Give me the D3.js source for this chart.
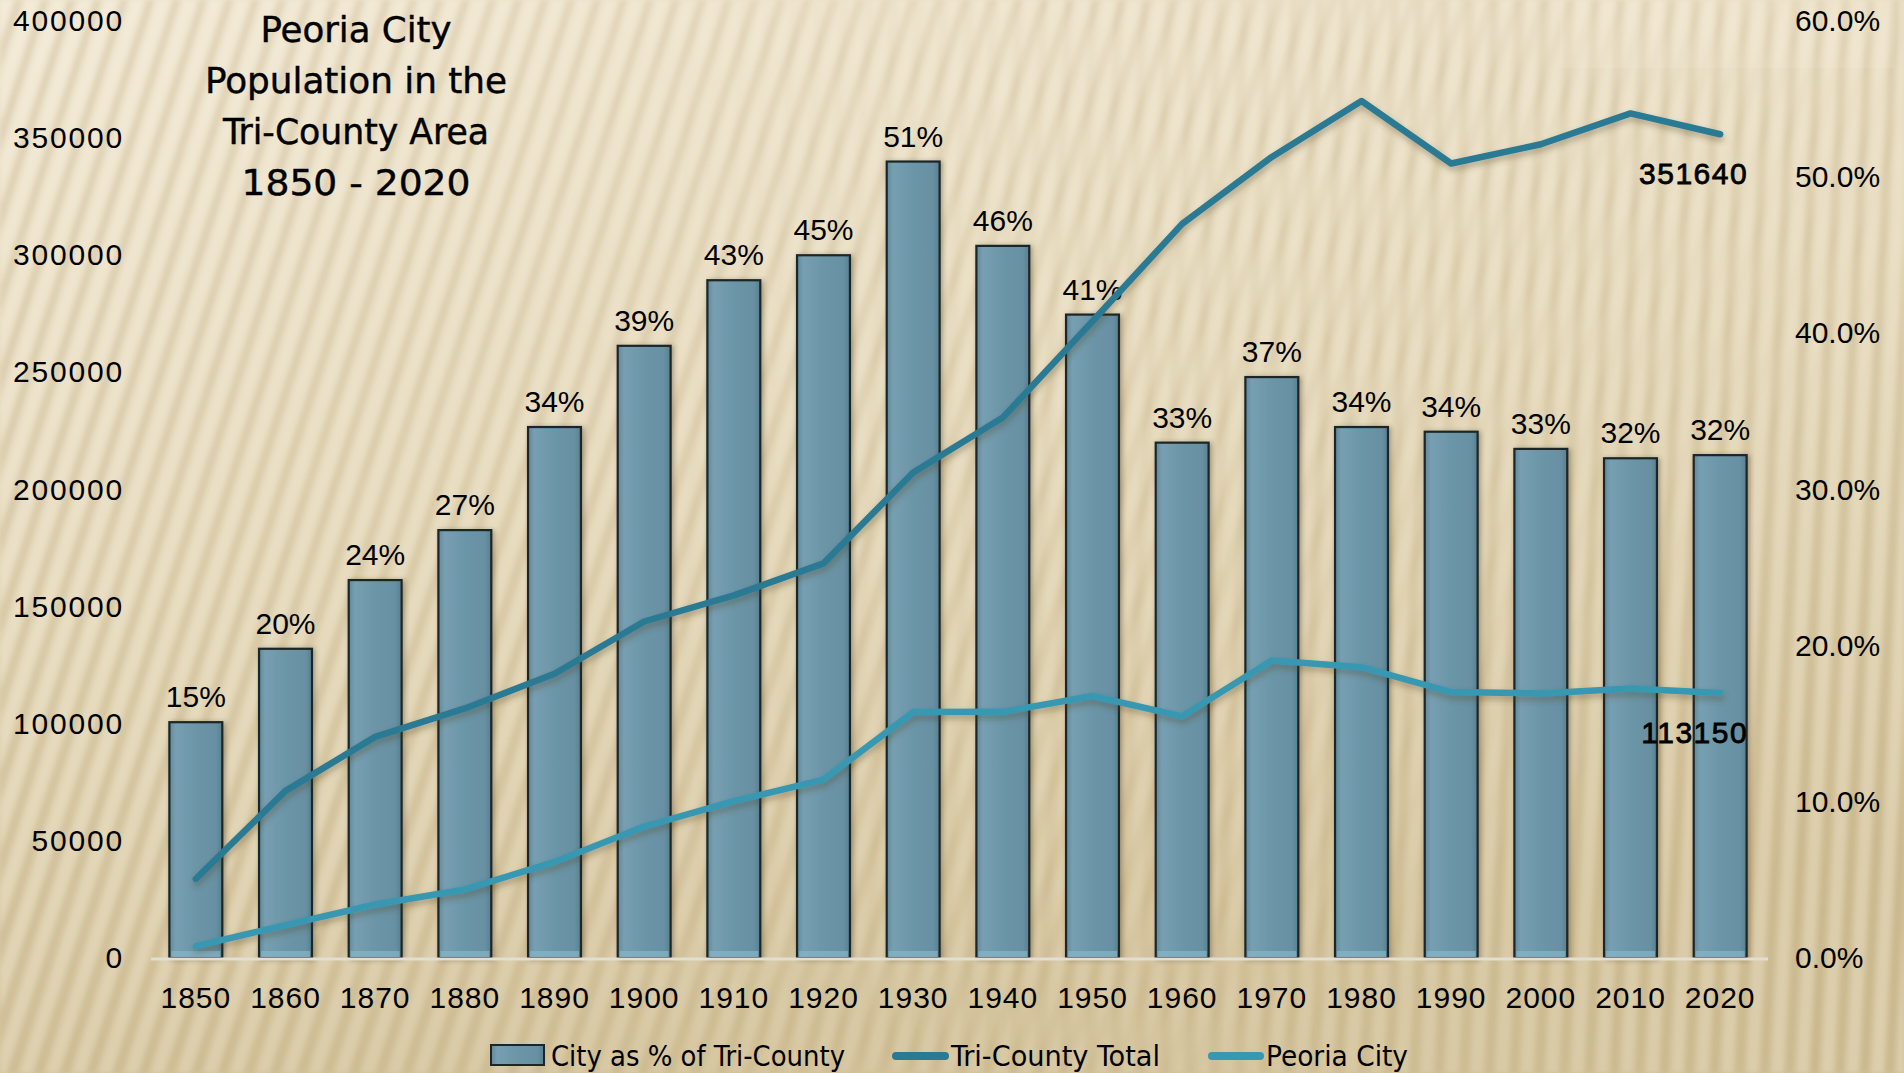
<!DOCTYPE html>
<html>
<head>
<meta charset="utf-8">
<script src="https://cdnjs.cloudflare.com/ajax/libs/d3/7.8.5/d3.min.js"></script>
<style>
  html, body { margin: 0; padding: 0; background: #e4d8bb; overflow: hidden; }
  svg { display: block; }
  text { font-family: "Liberation Sans", Arial, sans-serif; fill: #000; }
  .cond { font-family: "Liberation Sans Narrow", "Arial Narrow", "DejaVu Sans Condensed", "Liberation Sans", sans-serif; }
</style>
</head>
<body>
<svg id="chart" width="1904" height="1073"></svg>
<script>
// census years
var years = [1850, 1860, 1870, 1880, 1890, 1900, 1910, 1920, 1930, 1940, 1950, 1960, 1970, 1980, 1990, 2000, 2010, 2020];

// city as share of the tri-county total (bars, right axis)
var cityPct = [0.151, 0.198, 0.242, 0.274, 0.340, 0.392, 0.434, 0.450, 0.510, 0.456, 0.412, 0.330, 0.372, 0.340, 0.337, 0.326, 0.320, 0.322];

// population (lines, left axis)
var triCounty = [33757, 71352, 94399, 106530, 121363, 143651, 154788, 168450, 207267, 230700, 271847, 313412, 341979, 365864, 339172, 347387, 360552, 351640];
var peoriaCity = [5095, 14045, 22849, 29259, 41024, 56100, 66950, 76121, 104969, 105087, 111856, 103162, 126963, 124160, 113504, 112936, 115007, 113150];

var leftTicks = [0, 50000, 100000, 150000, 200000, 250000, 300000, 350000, 400000];
var rightTicks = [0, 0.1, 0.2, 0.3, 0.4, 0.5, 0.6];

var titleLines = ["Peoria City", "Population in the", "Tri-County Area", "1850 - 2020"];
var legendLabels = ["City as % of Tri-County", "Tri-County Total", "Peoria City"];

var W = 1904, H = 1073;
var triColor = "#2b7a93";
var cityColor = "#3798b2";

var svg = d3.select("#chart");
var defs = svg.append("defs");

var x = d3.scaleBand().domain(years).range([151, 1765]).paddingInner(0.41).paddingOuter(0.205);
var yLeft = d3.scaleLinear().domain([0, 400000]).range([958, 21]);
var yRight = d3.scaleLinear().domain([0, 0.6]).range([958, 21]);

function initDefs() {
  var bg = defs.append("linearGradient").attr("id", "bg")
    .attr("x1", 0).attr("y1", 0).attr("x2", 0.3).attr("y2", 1);
  bg.append("stop").attr("offset", 0).attr("stop-color", "#eee4cd");
  bg.append("stop").attr("offset", 0.5).attr("stop-color", "#e2d5b5");
  bg.append("stop").attr("offset", 1).attr("stop-color", "#d1c097");

  // stripe patterns: tilted on the left, near vertical on the right
  [["stripeL", 18], ["stripeR", 3]].forEach(function(p) {
    var pat = defs.append("pattern").attr("id", p[0])
      .attr("patternUnits", "userSpaceOnUse")
      .attr("width", 25).attr("height", 40)
      .attr("patternTransform", "rotate(" + p[1] + ")");
    pat.append("rect").attr("x", 0).attr("width", 12).attr("height", 40)
      .attr("fill", "#fffaf0").attr("opacity", 0.32);
    pat.append("rect").attr("x", 14).attr("width", 8).attr("height", 40)
      .attr("fill", "#9c8457").attr("opacity", 0.14);
  });

  var soft = defs.append("filter").attr("id", "soft");
  soft.append("feGaussianBlur").attr("stdDeviation", 2.2);

  var fadeL = defs.append("linearGradient").attr("id", "fadeL")
    .attr("x1", 0).attr("y1", 0).attr("x2", 1).attr("y2", 0.4);
  fadeL.append("stop").attr("offset", 0).attr("stop-color", "#fff").attr("stop-opacity", 1);
  fadeL.append("stop").attr("offset", 0.6).attr("stop-color", "#fff").attr("stop-opacity", 0.5);
  fadeL.append("stop").attr("offset", 1).attr("stop-color", "#fff").attr("stop-opacity", 0);
  defs.append("mask").attr("id", "maskL").append("rect")
    .attr("width", W).attr("height", H).attr("fill", "url(#fadeL)");

  var fadeR = defs.append("linearGradient").attr("id", "fadeR")
    .attr("x1", 0).attr("y1", 0).attr("x2", 1).attr("y2", 0);
  fadeR.append("stop").attr("offset", 0.3).attr("stop-color", "#fff").attr("stop-opacity", 0);
  fadeR.append("stop").attr("offset", 1).attr("stop-color", "#fff").attr("stop-opacity", 0.8);
  defs.append("mask").attr("id", "maskR").append("rect")
    .attr("width", W).attr("height", H).attr("fill", "url(#fadeR)");

  var barGrad = defs.append("linearGradient").attr("id", "barFill")
    .attr("x1", 0).attr("y1", 0).attr("x2", 1).attr("y2", 0);
  barGrad.append("stop").attr("offset", 0).attr("stop-color", "#5f8a9c");
  barGrad.append("stop").attr("offset", 0.12).attr("stop-color", "#779fb1");
  barGrad.append("stop").attr("offset", 0.5).attr("stop-color", "#6b96a8");
  barGrad.append("stop").attr("offset", 0.88).attr("stop-color", "#6890a2");
  barGrad.append("stop").attr("offset", 1).attr("stop-color", "#56808f");

  var shadow = defs.append("filter").attr("id", "shadow")
    .attr("x", "-10%").attr("y", "-10%").attr("width", "120%").attr("height", "130%");
  shadow.append("feDropShadow").attr("dx", 1).attr("dy", 4).attr("stdDeviation", 3)
    .attr("flood-color", "#4a3a1c").attr("flood-opacity", 0.35);

  var barShadow = defs.append("filter").attr("id", "barShadow")
    .attr("x", "-20%").attr("y", "-5%").attr("width", "140%").attr("height", "110%");
  barShadow.append("feDropShadow").attr("dx", 2).attr("dy", 1).attr("stdDeviation", 2.5)
    .attr("flood-color", "#3a2e18").attr("flood-opacity", 0.4);
}

function drawBackground() {
  svg.append("rect").attr("width", W).attr("height", H).attr("fill", "url(#bg)");
  var stripes = svg.append("g").attr("filter", "url(#soft)");
  stripes.append("rect").attr("width", W).attr("height", H)
    .attr("fill", "url(#stripeL)").attr("mask", "url(#maskL)");
  stripes.append("rect").attr("width", W).attr("height", H)
    .attr("fill", "url(#stripeR)").attr("mask", "url(#maskR)");
  // faint light panel at top right
  svg.append("path")
    .attr("d", "M1560,0 L1560,68 L1895,68 L1895,0 Z")
    .attr("fill", "#fff8e8").attr("opacity", 0.12);
}

function drawBars() {
  var g = svg.append("g").attr("filter", "url(#barShadow)");
  g.selectAll("rect.bar").data(years).enter().append("rect")
    .attr("class", "bar")
    .attr("x", function(d) { return x(d); })
    .attr("width", x.bandwidth())
    .attr("y", function(d, i) { return yRight(cityPct[i]); })
    .attr("height", function(d, i) { return yRight(0) - yRight(cityPct[i]); })
    .attr("fill", "url(#barFill)")
    .attr("stroke", "#1d2527").attr("stroke-width", 2.2);

  // bevel highlight at the base of each bar
  svg.selectAll("rect.bevel").data(years).enter().append("rect")
    .attr("class", "bevel")
    .attr("x", function(d) { return x(d) + 2; })
    .attr("width", x.bandwidth() - 4)
    .attr("y", yRight(0) - 7)
    .attr("height", 6)
    .attr("fill", "#86b6c8").attr("opacity", 0.7);

  svg.selectAll("text.pct").data(years).enter().append("text")
    .attr("class", "pct")
    .attr("x", function(d) { return x(d) + x.bandwidth() / 2; })
    .attr("y", function(d, i) { return yRight(cityPct[i]) - 15; })
    .attr("text-anchor", "middle")
    .style("font-size", "30px")
    .text(function(d, i) { return d3.format(".0%")(cityPct[i]); });
}

function drawAxes() {
  svg.append("line")
    .attr("x1", 151).attr("x2", 1768)
    .attr("y1", yLeft(0) + 1).attr("y2", yLeft(0) + 1)
    .attr("stroke", "#e2ded4").attr("stroke-width", 3);

  var left = svg.append("g").attr("transform", "translate(124,0)")
    .call(d3.axisLeft(yLeft).tickValues(leftTicks).tickFormat(d3.format("d")).tickSize(0).tickPadding(0));
  left.select(".domain").remove();
  left.selectAll("text").style("font-size", "30px").style("letter-spacing", "1.8px")
    .style("font-family", "'Liberation Sans', Arial, sans-serif").attr("fill", "#000");

  var right = svg.append("g").attr("transform", "translate(1795,0)")
    .call(d3.axisRight(yRight).tickValues(rightTicks).tickFormat(d3.format(".1%")).tickSize(0).tickPadding(0));
  right.select(".domain").remove();
  right.selectAll("text").style("font-size", "30px")
    .style("font-family", "'Liberation Sans', Arial, sans-serif").attr("fill", "#000");

  var bottom = svg.append("g").attr("transform", "translate(0," + yLeft(0) + ")")
    .call(d3.axisBottom(x).tickSize(0).tickPadding(29));
  bottom.select(".domain").remove();
  bottom.selectAll("text").style("font-size", "30px").style("letter-spacing", "1px")
    .style("font-family", "'Liberation Sans', Arial, sans-serif").attr("fill", "#000");
}

function drawLines() {
  var cx = function(d, i) { return x(years[i]) + x.bandwidth() / 2; };
  var series = [
    { values: triCounty, color: triColor },
    { values: peoriaCity, color: cityColor }
  ];

  series.forEach(function(s) {
    var line = d3.line().x(cx).y(function(d) { return yLeft(d); });
    svg.append("path").datum(s.values)
      .attr("d", line)
      .attr("fill", "none")
      .attr("stroke", s.color)
      .attr("stroke-width", 6.5)
      .attr("stroke-linecap", "round")
      .attr("stroke-linejoin", "round")
      .attr("filter", "url(#shadow)");

    // value label at the last point
    var last = s.values.length - 1;
    svg.append("text")
      .attr("x", cx(null, last) + 28)
      .attr("y", yLeft(s.values[last]) + 50)
      .attr("text-anchor", "end")
      .style("font-size", "30px")
      .style("letter-spacing", "1.5px")
      .style("stroke", "#000").style("stroke-width", "0.8px")
      .text(s.values[last]);
  });
}

function drawTitle() {
  var widths = [191, 302, 266, 229];
  svg.selectAll("text.title").data(titleLines).enter().append("text")
    .attr("class", "title cond")
    .attr("x", 356)
    .attr("y", function(d, i) { return 42 + i * 51; })
    .attr("text-anchor", "middle")
    .attr("textLength", function(d, i) { return widths[i]; })
    .attr("lengthAdjust", "spacingAndGlyphs")
    .style("font-size", "36px")
    .style("stroke", "#000").style("stroke-width", "0.4px")
    .text(function(d) { return d; });
}

function drawLegend() {
  var g = svg.append("g");
  var ly = 1066;
  var widths = [294, 209, 142];

  g.append("rect")
    .attr("x", 491).attr("y", 1045).attr("width", 53).attr("height", 20)
    .attr("fill", "url(#barFill)").attr("stroke", "#1d2527").attr("stroke-width", 2);
  [[892, 949, triColor], [1208, 1264, cityColor]].forEach(function(l) {
    g.append("line")
      .attr("x1", l[0] + 4).attr("x2", l[1] - 4)
      .attr("y1", 1056).attr("y2", 1056)
      .attr("stroke", l[2]).attr("stroke-width", 8).attr("stroke-linecap", "round");
  });

  var starts = [551, 951, 1266];
  g.selectAll("text").data(legendLabels).enter().append("text")
    .attr("class", "cond")
    .attr("x", function(d, i) { return starts[i]; })
    .attr("y", ly)
    .attr("textLength", function(d, i) { return widths[i]; })
    .attr("lengthAdjust", "spacingAndGlyphs")
    .style("font-size", "28px")
    .text(function(d) { return d; });
}

function main() {
  initDefs();
  drawBackground();
  drawBars();
  drawAxes();
  drawLines();
  drawTitle();
  drawLegend();
}

main();
</script>
</body>
</html>
